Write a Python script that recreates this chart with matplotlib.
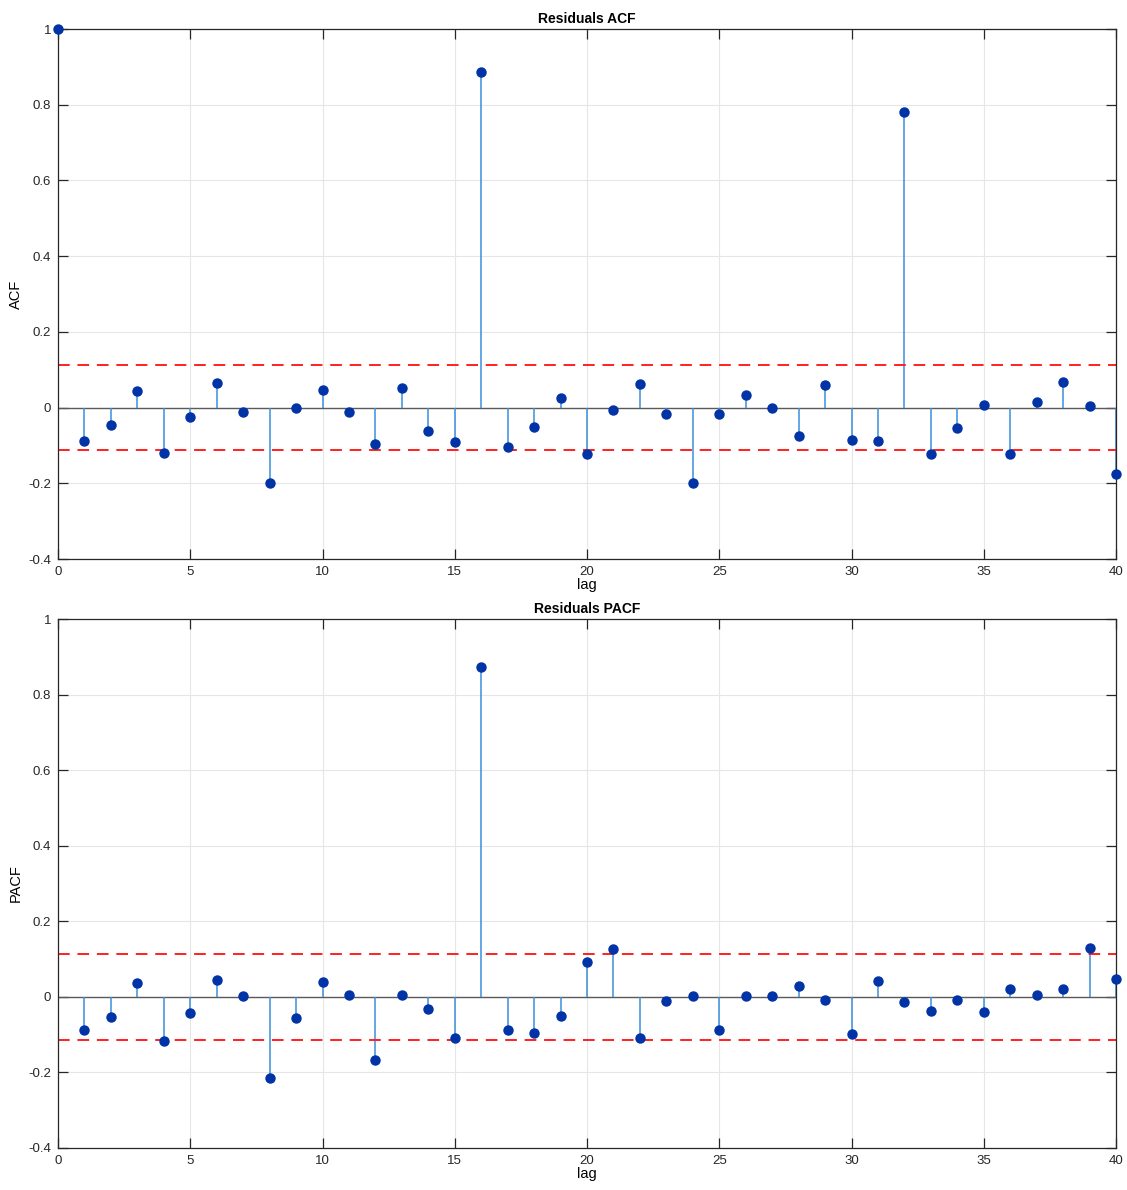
import matplotlib
matplotlib.use("Agg")
import matplotlib.pyplot as plt
import numpy as np

plt.rcParams['font.family'] = ['Liberation Sans', 'DejaVu Sans']

acf_lags = list(range(0, 41))
acf_vals = [1.0, -0.089, -0.045, 0.044, -0.121, -0.024, 0.065, -0.013, -0.199, -0.002,
            0.047, -0.012, -0.097, 0.052, -0.062, -0.091, 0.887, -0.104, -0.052, 0.026,
            -0.123, -0.006, 0.063, -0.018, -0.198, -0.017, 0.033, -0.001, -0.075, 0.060,
            -0.086, -0.088, 0.782, -0.122, -0.055, 0.007, -0.123, 0.014, 0.068, 0.003,
            -0.175]

pacf_lags = list(range(1, 41))
pacf_vals = [-0.089, -0.054, 0.036, -0.118, -0.043, 0.045, 0.002, -0.214, -0.055,
             0.040, 0.005, -0.166, 0.005, -0.033, -0.108, 0.874, -0.087, -0.096, -0.051,
             0.092, 0.126, -0.110, -0.012, 0.002, -0.089, 0.002, 0.002, 0.028, -0.007,
             -0.099, 0.041, -0.013, -0.037, -0.007, -0.040, 0.022, 0.005, 0.022, 0.130,
             0.048]

conf_bound = 0.113
titles = ["Residuals ACF", "Residuals PACF"]
ylabels = ["ACF", "PACF"]
xticks = [0, 5, 10, 15, 20, 25, 30, 35, 40]
yticks = [-0.4, -0.2, 0, 0.2, 0.4, 0.6, 0.8, 1]
ytick_labels = ["-0.4", "-0.2", "0", "0.2", "0.4", "0.6", "0.8", "1"]

W, H = 1127, 1190
fig = plt.figure(figsize=(W / 100, H / 100), dpi=100)

left = 58 / W
width = (1116 - 58) / W
positions = [(left, 1 - 559 / H, width, (559 - 29) / H),
             (left, 1 - 1148 / H, width, (1148 - 619) / H)]

data = [(acf_lags, acf_vals), (pacf_lags, pacf_vals)]

for i, (lags, vals) in enumerate(data):
    ax = fig.add_axes(positions[i])
    ax.set_xlim(0, 40)
    ax.set_ylim(-0.4, 1)
    ax.set_xticks(xticks)
    ax.set_yticks(yticks)
    ax.set_yticklabels(ytick_labels)
    ax.grid(True, color='#e6e6e6', linewidth=0.8, zorder=0)
    ax.set_axisbelow(True)
    ax.axhline(0, color='#5a5a5a', linewidth=1.0, zorder=1)
    ml, sl, bl = ax.stem(lags, vals, basefmt=' ')
    plt.setp(sl, color='#3a8fdc', linewidth=1.1, zorder=2)
    plt.setp(ml, color='#0033a6', marker='o', markersize=6.5, zorder=3, clip_on=False)
    ax.axhline(conf_bound, color='#ff2020', linestyle=(0, (6, 4)), linewidth=1.4, zorder=2)
    ax.axhline(-conf_bound, color='#ff2020', linestyle=(0, (6, 4)), linewidth=1.4, zorder=2)
    ax.tick_params(direction='in', length=7, width=0.9, top=True, right=True,
                   labelsize=9.5, colors='#262626', pad=5)
    for s in ax.spines.values():
        s.set_color('#262626')
        s.set_linewidth(0.9)
    ax.set_title(titles[i], fontsize=10, fontweight='bold', pad=4)
    ax.set_xlabel("lag", fontsize=10.5, labelpad=0)
    ax.set_ylabel(ylabels[i], fontsize=10.5, labelpad=4)

fig.savefig("out.png", dpi=100)
